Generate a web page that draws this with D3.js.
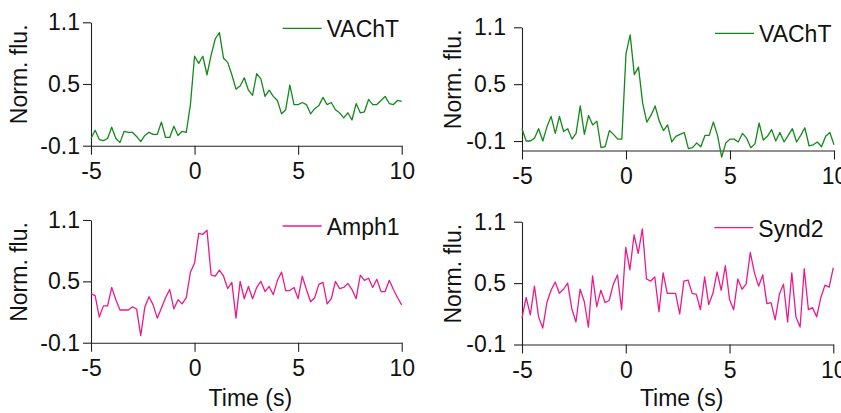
<!DOCTYPE html>
<html>
<head>
<meta charset="utf-8">
<script src="https://cdnjs.cloudflare.com/ajax/libs/d3/7.8.5/d3.min.js"></script>
<style>
  html, body { margin: 0; padding: 0; background: #fff; }
  svg { display: block; font-family: "Liberation Sans", Arial, sans-serif; }
</style>
</head>
<body>
<svg id="chart" width="841" height="413"></svg>
<script>
// Sampling: 5 frames per second, from -5 s to +10 s (76 frames)
const T_START = -5;
const FRAME_DT = 0.2;

// Normalised fluorescence traces
const vachtA = [-0.03, 0.05, -0.04, -0.05, -0.03, 0.08, -0.03, -0.07, 0.04, 0.03,
  0.03, -0.01, -0.06, 0.00, 0.03, 0.01, 0.01, 0.13, -0.02, -0.02,
  0.09, 0.00, 0.04, 0.03, 0.30, 0.77, 0.70, 0.77, 0.59, 0.78,
  0.94, 1.00, 0.75, 0.71, 0.59, 0.45, 0.48, 0.56, 0.44, 0.39,
  0.60, 0.55, 0.38, 0.44, 0.38, 0.34, 0.21, 0.25, 0.49, 0.30,
  0.30, 0.32, 0.30, 0.21, 0.26, 0.29, 0.37, 0.30, 0.32, 0.25,
  0.22, 0.17, 0.22, 0.15, 0.31, 0.22, 0.23, 0.35, 0.30, 0.30,
  0.34, 0.38, 0.31, 0.30, 0.34, 0.33];

const vachtB = [0.03, -0.10, -0.10, -0.07, 0.03, -0.10, 0.05, 0.16, -0.02, 0.16,
  0.00, 0.03, -0.08, -0.02, 0.27, -0.03, 0.17, 0.07, 0.11, -0.17,
  -0.16, 0.01, -0.03, -0.08, -0.08, 0.82, 1.02, 0.60, 0.68, 0.30,
  0.10, 0.17, 0.27, 0.11, 0.01, 0.07, -0.11, -0.05, -0.03, -0.01,
  -0.18, -0.17, -0.12, -0.16, -0.04, -0.04, 0.10, -0.04, -0.27, -0.12,
  -0.08, -0.08, -0.11, -0.02, -0.07, -0.17, -0.13, 0.09, -0.09, -0.05,
  0.02, -0.10, -0.01, -0.11, -0.04, 0.03, -0.11, -0.04, 0.04, -0.15,
  -0.14, -0.11, -0.16, -0.05, -0.01, -0.14];

const amph1 = [0.38, 0.36, 0.15, 0.26, 0.26, 0.44, 0.32, 0.22, 0.22, 0.22,
  0.25, 0.23, -0.03, 0.25, 0.35, 0.27, 0.14, 0.24, 0.34, 0.42,
  0.23, 0.32, 0.28, 0.34, 0.59, 0.68, 0.97, 0.96, 1.00, 0.56,
  0.55, 0.61, 0.55, 0.43, 0.49, 0.14, 0.50, 0.33, 0.45, 0.33,
  0.44, 0.50, 0.40, 0.45, 0.37, 0.51, 0.59, 0.41, 0.41, 0.44,
  0.33, 0.55, 0.42, 0.30, 0.34, 0.47, 0.49, 0.28, 0.33, 0.50,
  0.43, 0.44, 0.48, 0.42, 0.33, 0.56, 0.51, 0.53, 0.44, 0.52,
  0.40, 0.40, 0.51, 0.42, 0.34, 0.27];

const synd2 = [0.16, 0.36, 0.19, 0.47, 0.17, 0.06, 0.31, 0.43, 0.51, 0.40,
  0.44, 0.50, 0.25, 0.12, 0.44, 0.32, 0.07, 0.57, 0.27, 0.43,
  0.31, 0.33, 0.49, 0.58, 0.24, 0.85, 0.63, 0.97, 0.79, 1.03,
  0.54, 0.52, 0.56, 0.22, 0.60, 0.40, 0.40, 0.40, 0.20, 0.52,
  0.53, 0.40, 0.39, 0.24, 0.56, 0.29, 0.40, 0.61, 0.43, 0.67,
  0.34, 0.24, 0.54, 0.44, 0.49, 0.80, 0.60, 0.47, 0.58, 0.30,
  0.31, 0.14, 0.39, 0.49, 0.12, 0.60, 0.17, 0.07, 0.64, 0.24,
  0.26, 0.17, 0.36, 0.48, 0.46, 0.65];

const xTicks = [-5, 0, 5, 10];
const yTicks = [-0.1, 0.5, 1.1];

const GREEN = "#13891a";
const PINK = "#eb1a8c";

// Panel layout: pixel box for each trace
const panels = [
  { name: "VAChT", values: vachtA, color: GREEN, x0: 91, x1: 401.7, yTop: 22.3, yBot: 145.7, yMin: -0.1, labPad: 3 },
  { name: "VAChT", values: vachtB, color: GREEN, x0: 522, x1: 834, yTop: 27.3, yBot: 150.5, yMin: -0.2, labPad: 8 },
  { name: "Amph1", values: amph1, color: PINK, x0: 91, x1: 401.7, yTop: 220, yBot: 342.7, yMin: -0.1, labPad: 3 },
  { name: "Synd2", values: synd2, color: PINK, x0: 522, x1: 833.3, yTop: 221.7, yBot: 344.5, yMin: -0.1, labPad: 8 }
];

const svg = d3.select("#chart");
const FONT = 23;
// plain hyphen for negative numbers
const hyphen = f => d => f(d).replace("\u2212", "-");

panels.forEach((p, idx) => {
  const x = d3.scaleLinear().domain([-5, 10]).range([p.x0, p.x1]);
  const y = d3.scaleLinear().domain([p.yMin, 1.1]).range([p.yBot, p.yTop]);
  const g = svg.append("g");

  // x axis
  const xa = g.append("g")
    .attr("transform", `translate(0,${p.yBot})`)
    .call(d3.axisBottom(x).tickValues(xTicks).tickSize(9).tickSizeOuter(0).tickPadding(8)
      .tickFormat(hyphen(d3.format("d"))));

  // y axis
  const ya = g.append("g")
    .attr("transform", `translate(${p.x0},0)`)
    .call(d3.axisLeft(y).tickValues(yTicks).tickSize(8).tickSizeOuter(0).tickPadding(p.labPad)
      .tickFormat(hyphen(d3.format(".1f"))));

  [xa, ya].forEach(a => {
    a.select(".domain").attr("stroke", "#222").attr("stroke-width", 1.1);
    a.selectAll(".tick line").attr("stroke", "#222").attr("stroke-width", 1.1);
    a.selectAll(".tick text").attr("fill", "#111").attr("font-size", FONT)
      .attr("font-family", "Liberation Sans, Arial, sans-serif");
  });

  // trace
  const line = d3.line()
    .x((d, i) => x(T_START + i * FRAME_DT))
    .y(d => y(d));
  g.append("path")
    .datum(p.values)
    .attr("fill", "none")
    .attr("stroke", p.color)
    .attr("stroke-width", 1.3)
    .attr("stroke-linejoin", "round")
    .attr("d", line);

  // legend
  const legY = p.yTop + 6;
  const lx = p.x1 - 119;
  g.append("line")
    .attr("x1", lx).attr("x2", lx + 39)
    .attr("y1", legY).attr("y2", legY)
    .attr("stroke", p.color).attr("stroke-width", 1.3);
  g.append("text")
    .attr("x", lx + 44).attr("y", legY + 9)
    .attr("font-size", FONT).attr("fill", "#111")
    .text(p.name);

  // y label
  const labX = idx % 2 === 0 ? 27 : 461;
  g.append("text")
    .attr("transform", `translate(${labX},${p.yTop + 52}) rotate(-90)`)
    .attr("text-anchor", "middle")
    .attr("font-size", FONT).attr("fill", "#111")
    .text("Norm. flu.");

  // x label on the lower row
  if (idx >= 2) {
    g.append("text")
      .attr("x", (p.x0 + p.x1) / 2 + 4)
      .attr("y", 406)
      .attr("text-anchor", "middle")
      .attr("font-size", FONT).attr("fill", "#111")
      .text("Time (s)");
  }
});
</script>
</body>
</html>
